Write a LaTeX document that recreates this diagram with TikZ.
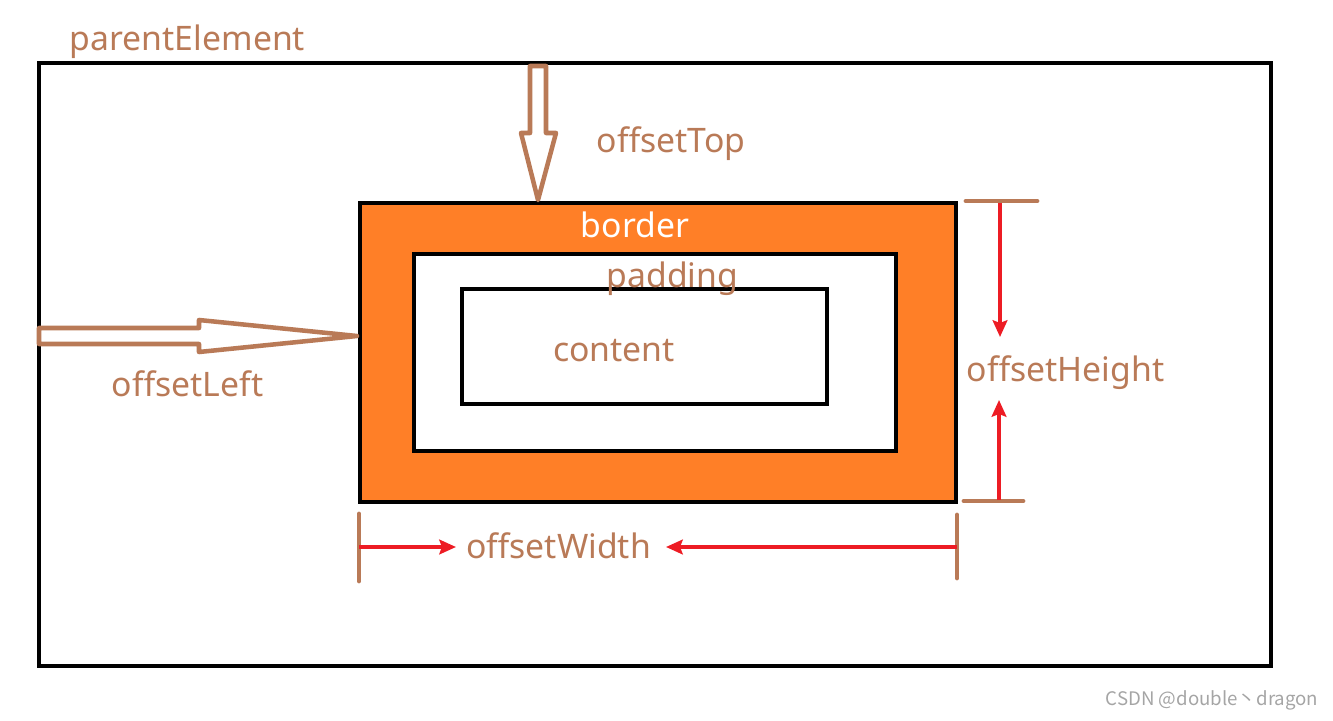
\documentclass[tikz,border=0pt]{standalone}
\usepackage{fontspec}
\setmainfont{Noto Sans}
\newfontfamily\cjk{Noto Sans CJK SC}
\usepackage{xcolor}
\usetikzlibrary{arrows.meta}
\definecolor{brun}{RGB}{185,122,87}
\definecolor{orangeBord}{RGB}{255,127,39}
\definecolor{rouge}{RGB}{237,28,36}
\definecolor{filigrane}{RGB}{165,165,165}
\begin{document}
\begin{tikzpicture}[x=0.75pt,y=-0.75pt]
% Styles (MODIFIABLES)
\tikzstyle{cadre}=[draw=black,line width=3.4pt,inner sep=0pt,outer sep=0pt]
\tikzstyle{etiquette}=[text=brun,font=\fontsize{25.3}{29}\selectfont,inner sep=0pt,anchor=base]
\tikzstyle{creuse}=[draw=brun,line width=3.4pt,line join=round,fill=white]
\tikzstyle{repere}=[draw=brun,line width=3.6pt,line cap=round]
\tikzstyle{fleche}=[-{Stealth[length=12.5pt,width=11pt,inset=2pt]},draw=rouge,line width=2.8pt]
% Dimensions (MODIFIABLES)
\def\px{0.75pt}
\useasboundingbox (0,0) rectangle (1333,720);
% Cadres
\node[cadre,minimum width=1232*\px,minimum height=603*\px] (parent) at (655,364.5) {};
\node[cadre,fill=orangeBord,minimum width=596*\px,minimum height=299*\px] (bord) at (658,352.5) {};
\node[cadre,fill=white,minimum width=482*\px,minimum height=197*\px] (remplissage) at (655,352.5) {};
\node[cadre,fill=white,minimum width=365*\px,minimum height=115*\px] (contenu) at (644.5,346.5) {};
% Fleches creuses
\draw[creuse] (530,66) -- (546,66) -- (546,133) -- (556,133) -- (538,200)
  -- (521,133) -- (530,133) -- cycle;
\draw[creuse] (39,328) -- (199,328) -- (199,320) -- (357,336) -- (199,352)
  -- (199,344) -- (39,344) -- cycle;
% Reperes
\coordinate (HautG) at (966,201);
\coordinate (HautD) at (1037,201);
\coordinate (BasG) at (964,501);
\coordinate (BasD) at (1023,501);
\coordinate (GaucheH) at (359,514);
\coordinate (GaucheB) at (359,581);
\coordinate (DroiteH) at (957,515);
\coordinate (DroiteB) at (957,578);
\draw[repere] (HautG) -- (HautD);
\draw[repere] (BasG) -- (BasD);
\draw[repere] (GaucheH) -- (GaucheB);
\draw[repere] (DroiteH) -- (DroiteB);
% Fleches rouges
\coordinate (H1) at (1000,203);
\coordinate (H2) at (1000,337);
\coordinate (H3) at (999,500);
\coordinate (H4) at (999,400);
\coordinate (L1) at (359,547);
\coordinate (L2) at (456,547);
\coordinate (L3) at (957,547);
\coordinate (L4) at (666,547);
\draw[fleche] (H1) -- (H2);
\draw[fleche] (H3) -- (H4);
\draw[fleche] (L1) -- (L2);
\draw[fleche] (L3) -- (L4);
% Etiquettes
\node[etiquette] (tParent) at (187.5,51) {parentElement};
\node[etiquette] (tTop) at (671,153) {offsetTop};
\node[etiquette,text=white] (tBord) at (635,238) {border};
\node[etiquette] (tRemplissage) at (672.5,287) {padding};
\node[etiquette] (tContenu) at (614,361) {content};
\node[etiquette] (tLeft) at (187.5,396) {offsetLeft};
\node[etiquette] (tHeight) at (1065.5,381) {offsetHeight};
\node[etiquette] (tWidth) at (558.5,558) {offsetWidth};
\node[text=filigrane,font=\cjk\fontsize{14}{16}\selectfont,inner sep=0pt] (filigrane) at (1212,700) {CSDN @double丶dragon};
\end{tikzpicture}
\end{document}
